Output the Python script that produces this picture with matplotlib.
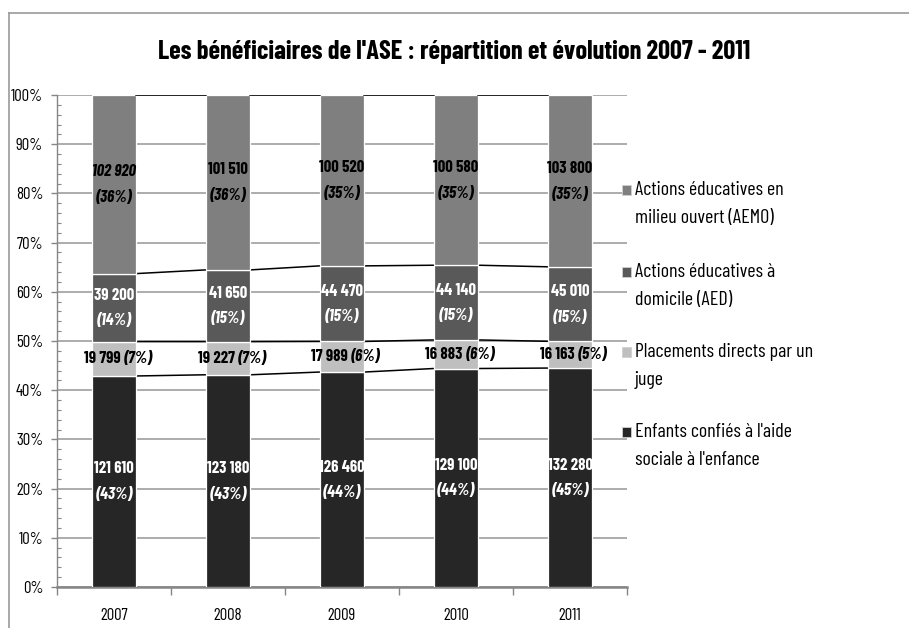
import numpy as np
import matplotlib
matplotlib.use('Agg')
import matplotlib.pyplot as plt
from matplotlib.patches import Rectangle
from matplotlib.lines import Line2D

# données (nombre de bénéficiaires)
annees = ['2007', '2008', '2009', '2010', '2011']
enfants = [121610, 123180, 126460, 129100, 132280]
placements = [19799, 19227, 17989, 16883, 16163]
aed = [39200, 41650, 44470, 44140, 45010]
aemo = [102920, 101510, 100520, 100580, 103800]

noms = [
    ["Enfants confiés à l'aide", "sociale à l'enfance"],
    ["Placements directs par un", "juge"],
    ["Actions éducatives à", "domicile (AED)"],
    ["Actions éducatives en", "milieu ouvert (AEMO)"],
]
couleurs = ['#262626', '#bfbfbf', '#595959', '#7f7f7f']
couleurs_txt = ['white', 'black', 'white', 'black']

plt.rcParams['font.family'] = ['Barlow Condensed', 'DejaVu Sans']

W, H = 909, 628
def fx(px):
    return px / W
def fy(py):
    return 1 - py / H

series = np.array([enfants, placements, aed, aemo], dtype=float)
totaux = series.sum(axis=0)
parts = series / totaux * 100
hauts = np.cumsum(parts, axis=0)
bas = hauts - parts

fig = plt.figure(figsize=(W / 100, H / 100), dpi=100)
ax = fig.add_axes([fx(57), fy(587), fx(627) - fx(57), fy(95) - fy(587)])

x = np.arange(len(annees))
larg = 0.39

for k in range(4):
    ax.bar(x, parts[k], larg, bottom=bas[k], color=couleurs[k],
           edgecolor='white', linewidth=0.9, zorder=3)
    # lignes de séries entre les barres
    for i in range(len(x) - 1):
        ax.plot([x[i] + larg / 2, x[i + 1] - larg / 2], [hauts[k][i], hauts[k][i + 1]],
                color='black', lw=1.1, zorder=3)

ax.set_xlim(-0.5, len(x) - 0.5)
ax.set_ylim(0, 100)

def fmt(n):
    return f'{int(n):,}'.replace(',', ' ')

fig.canvas.draw()
rend = fig.canvas.get_renderer()

TL = 12  # taille des étiquettes
for k in range(4):
    for i in range(len(x)):
        ymid = (bas[k][i] + hauts[k][i]) / 2
        nb = fmt(series[k][i])
        pc = f'({parts[k][i]:.0f}%)'
        c = couleurs_txt[k]
        if k == 1:
            t1 = ax.annotate(nb, (x[i], ymid), xytext=(0, 0), textcoords='offset points',
                             ha='right', va='center', fontsize=TL, fontweight='bold',
                             color=c, zorder=5)
            t2 = ax.annotate(pc, (x[i], ymid), xytext=(0, 0), textcoords='offset points',
                             ha='left', va='center', fontsize=TL, fontweight='bold',
                             style='italic', color=c, zorder=5)
            w1 = t1.get_window_extent(rend).width
            w2 = t2.get_window_extent(rend).width
            gap = 3
            dx = (w1 - w2) / 2 + 4
            t1.xyann = ((dx - gap / 2) * 0.72, 0)
            t2.xyann = ((dx + gap / 2) * 0.72, 0)
        else:
            it = 'italic' if (k == 3 and i == 0) else 'normal'
            ax.annotate(nb, (x[i], ymid), xytext=(0, 9), textcoords='offset points',
                        ha='center', va='center', fontsize=TL, fontweight='bold',
                        style=it, color=c, zorder=5)
            ax.annotate(pc, (x[i], ymid), xytext=(0, -9.5), textcoords='offset points',
                        ha='center', va='center', fontsize=TL, fontweight='bold',
                        style='italic', color=c, zorder=5)

# axes
ax.set_yticks(np.arange(0, 101, 10))
ax.set_yticklabels([f'{v}%' for v in range(0, 101, 10)], fontsize=12)
ax.set_yticks(np.arange(0, 101, 2), minor=True)
ax.tick_params(axis='y', which='major', direction='out', length=4, width=1,
               color='#868686', pad=6)
ax.tick_params(axis='y', which='minor', direction='in', length=3, width=0.8,
               color='#868686')

ax.set_xticks(x)
ax.set_xticklabels(annees, fontsize=12)
ax.set_xticks(np.arange(-0.5, len(x), 1), minor=True)
ax.tick_params(axis='x', which='major', length=0, pad=15)
ax.tick_params(axis='x', which='minor', direction='out', length=6, width=1,
               color='#868686')

ax.yaxis.grid(True, which='major', color='#a6a6a6', lw=1.3)
ax.set_axisbelow(True)
for s in ['top', 'right']:
    ax.spines[s].set_visible(False)
ax.spines['left'].set_color('#868686')
ax.spines['left'].set_linewidth(1)
ax.spines['bottom'].set_color('#868686')
ax.spines['bottom'].set_linewidth(1.8)

# titre
fig.text(0.5, fy(52), "Les bénéficiaires de l'ASE : répartition et évolution 2007 - 2011",
         ha='center', va='center', fontsize=19, fontweight='bold')

# légende
lignes_leg = [432, 352, 272, 190]
for k in range(4):
    yl = lignes_leg[k]
    fig.add_artist(Rectangle((fx(622), fy(yl + 5)), fx(9), fy(yl - 5) - fy(yl + 5),
                             transform=fig.transFigure, facecolor=couleurs[k],
                             edgecolor='#d0d0d0', lw=0.6))
    fig.text(fx(635), fy(yl), noms[k][0], ha='left', va='center', fontsize=14.4)
    fig.text(fx(635), fy(yl + 28), noms[k][1], ha='left', va='center', fontsize=14.4)

# cadre
fig.add_artist(Line2D([fx(9), 1], [fy(13), fy(13)], transform=fig.transFigure,
                      color='#9a9a9a', lw=1.2))
fig.add_artist(Line2D([fx(9), fx(9)], [fy(13), 0], transform=fig.transFigure,
                      color='#9a9a9a', lw=1.2))

fig.savefig('out.png', dpi=100)
